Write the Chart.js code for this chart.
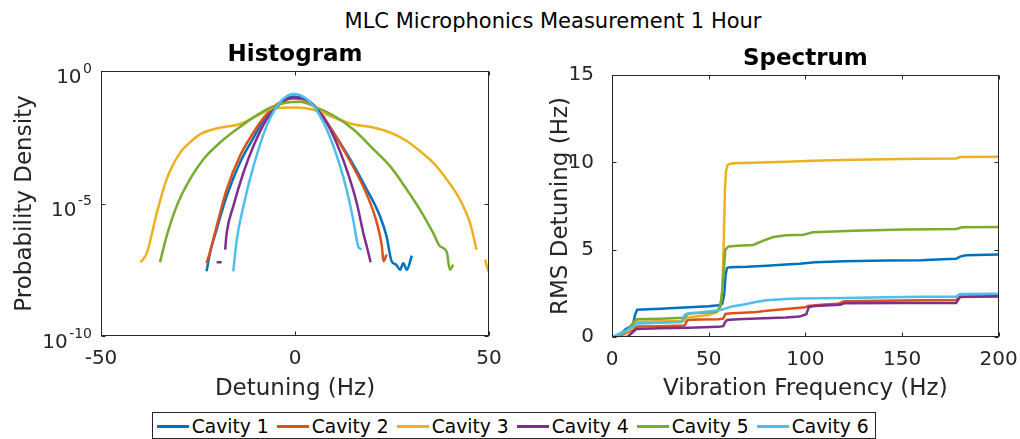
<!DOCTYPE html>
<html>
<head>
<meta charset="utf-8">
<title>MLC Microphonics Measurement 1 Hour</title>
<script src="https://cdn.jsdelivr.net/npm/chart.js@4.4.1/dist/chart.umd.min.js"></script>
<style>
  html, body { margin: 0; padding: 0; background: #fff; }
  #fig { position: relative; width: 1020px; height: 439px; overflow: hidden; font-family: "DejaVu Sans", sans-serif; }
  #suptitle { position: absolute; left: 553px; top: 11px; transform: translateX(-50%); font-size: 21px; line-height: 21px; color: #000; white-space: nowrap; }
  .panel { position: absolute; top: 0; height: 400px; }
  #legend { position: absolute; left: 152px; top: 412px; width: 722px; height: 25px; border: 1px solid #262626; background: #fff; }
  #legend .item { position: absolute; top: 1px; height: 25px; display: flex; align-items: center; font-size: 18.7px; color: #000; white-space: nowrap; }
  #legend .swatch { display: inline-block; width: 32px; height: 2.5px; margin-right: 3px; }
</style>
</head>
<body>
<div id="fig">
  <div id="suptitle">MLC Microphonics Measurement 1 Hour</div>
  <div class="panel" style="left:0;width:510px"><canvas id="histChart" width="510" height="400"></canvas></div>
  <div class="panel" style="left:510px;width:530px"><canvas id="specChart" width="530" height="400"></canvas></div>
  <div id="legend"></div>
</div>
<script>
const cavityNames = ['Cavity 1', 'Cavity 2', 'Cavity 3', 'Cavity 4', 'Cavity 5', 'Cavity 6'];
const cavityColors = ['#0072BD', '#D95319', '#EDB120', '#7E2F8E', '#77AC30', '#4DBEEE'];

// Histogram: detuning (Hz) vs log10(probability density); null breaks the line
const histDetuning1 = [-22.8, -21.9, -20.2, -17.6, -14.2, -10.7, -7.3, -3.9, -0.4, 3.0, 6.4, 9.9, 14.2, 18.5, 21.9, 23.6, 24.9, 26.0, 27.1, 27.9, 28.8, 30.1];
const histLogPdf1   = [-7.56, -6.87, -5.98, -4.72, -3.46, -2.52, -1.68, -1.19, -0.96, -1.12, -1.56, -2.32, -3.33, -4.47, -5.48, -6.24, -7.18, -7.30, -7.50, -7.25, -7.50, -6.97];
const histDetuning2 = [-22.8, -21.9, -20.2, -17.6, -14.2, -10.7, -7.3, -3.9, -0.4, 3.0, 6.4, 9.9, 14.2, 18.5, 21.1, 22.4, 22.8, 23.6];
const histLogPdf2   = [-7.25, -6.82, -5.86, -4.47, -3.21, -2.32, -1.63, -1.19, -1.04, -1.12, -1.56, -2.32, -3.40, -4.66, -5.73, -6.62, -7.18, -6.93];
const histDetuning3 = [-39.8, -38.2, -35.6, -33.1, -29.6, -27.1, -24.5, -20.2, -14.2, -9.0, -5.6, 0.4, 5.6, 9.9, 15.0, 20.2, 24.5, 28.8, 32.2, 35.6, 39.1, 42.5, 45.1, 46.8, 48.0, 49.0, 49.8];
const histLogPdf3   = [-7.22, -6.87, -5.35, -4.09, -3.08, -2.70, -2.39, -2.17, -2.00, -1.63, -1.41, -1.38, -1.50, -1.75, -2.01, -2.13, -2.32, -2.64, -3.02, -3.46, -4.09, -4.85, -5.73, -6.74, null, -7.12, -7.56];
const histDetuning4 = [-20.2, -18.9, -18.5, -18.0, -17.6, -15.9, -13.3, -10.7, -7.3, -3.9, -0.4, 3.0, 6.4, 9.9, 13.3, 15.9, 17.6, 18.5, 19.5];
const histLogPdf4   = [-7.22, -7.22, null, -6.74, -6.11, -5.10, -3.84, -2.83, -1.82, -1.25, -1.00, -1.08, -1.56, -2.45, -3.71, -4.97, -6.11, -6.62, -7.22];
const histDetuning5 = [-34.8, -33.1, -30.5, -27.1, -23.6, -19.3, -15.0, -10.7, -6.4, -2.1, 1.3, 5.6, 9.9, 15.0, 20.2, 24.5, 28.8, 32.2, 35.6, 37.4, 39.1, 39.9, 40.8];
const histLogPdf5   = [-7.22, -6.24, -5.10, -4.09, -3.33, -2.70, -2.20, -1.75, -1.38, -1.19, -1.16, -1.38, -1.68, -2.20, -2.95, -3.59, -4.47, -5.23, -6.11, -6.62, -6.82, -7.50, -7.31];
const histDetuning6 = [-15.9, -15.0, -13.3, -10.7, -7.3, -3.9, -0.4, 3.0, 6.4, 9.9, 13.3, 15.0, 16.3, 17.2];
const histLogPdf6   = [-7.56, -6.36, -5.10, -3.59, -2.07, -1.19, -0.87, -1.06, -1.68, -2.83, -4.47, -5.61, -6.62, -6.74];
const histTicks = [1e-10, 1e-5, 1];

// Spectrum: cumulative RMS detuning (Hz) vs vibration frequency (Hz)
const specFreq1 = [0, 4, 7, 9.5, 11, 12, 13, 25, 40, 50, 55, 57, 58, 58.8, 59.5, 61, 70, 80, 90, 97, 105, 120, 142, 160, 171, 178, 180, 183, 200];
const specRms1  = [0, 0.12, 0.45, 0.6, 0.8, 1.3, 1.56, 1.62, 1.7, 1.76, 1.82, 1.9, 2.4, 3.6, 3.95, 4.0, 4.02, 4.08, 4.15, 4.2, 4.28, 4.33, 4.38, 4.4, 4.45, 4.48, 4.6, 4.68, 4.72];
const specFreq2 = [0, 4, 8, 11, 13, 25, 37.5, 39, 45, 55, 57.5, 58.7, 62, 73, 80, 90, 100, 101.5, 108, 117, 120, 140, 160, 178, 180, 200];
const specRms2  = [0, 0.08, 0.25, 0.42, 0.6, 0.62, 0.66, 0.97, 1.0, 1.02, 1.05, 1.32, 1.36, 1.41, 1.5, 1.6, 1.7, 1.78, 1.85, 1.9, 2.04, 2.08, 2.1, 2.12, 2.29, 2.32];
const specFreq3 = [0, 4, 8, 11, 13, 25, 37, 39, 45, 50, 54, 56, 57, 57.8, 58.4, 59, 59.8, 61, 65, 73, 90, 108, 125, 159, 178, 180, 200];
const specRms3  = [0, 0.1, 0.3, 0.55, 0.88, 0.9, 0.92, 1.1, 1.2, 1.26, 1.4, 1.7, 2.6, 5.5, 8.4, 9.5, 9.85, 9.92, 9.96, 9.98, 10.03, 10.1, 10.15, 10.2, 10.22, 10.3, 10.32];
const specFreq4 = [0, 8, 10, 12.5, 25, 40, 55, 57.5, 58.5, 59.5, 65, 75, 90, 97, 100.5, 101.8, 105, 118, 120, 150, 178, 180, 200];
const specRms4  = [0, 0.02, 0.2, 0.46, 0.5, 0.53, 0.58, 0.62, 0.85, 0.98, 1.02, 1.06, 1.12, 1.17, 1.3, 1.72, 1.78, 1.84, 1.93, 1.94, 1.95, 2.3, 2.33];
const specFreq5 = [0, 4, 7, 9.5, 11, 12, 13, 25, 37.5, 39, 41, 50, 54, 56, 57, 57.7, 58.6, 60.3, 65, 73, 78, 83.5, 90, 99, 104, 125, 151, 178, 181, 200];
const specRms5  = [0, 0.08, 0.3, 0.6, 0.8, 0.95, 1.01, 1.05, 1.1, 1.3, 1.36, 1.4, 1.45, 1.75, 2.6, 3.65, 5.0, 5.18, 5.22, 5.27, 5.5, 5.72, 5.82, 5.86, 6.0, 6.09, 6.15, 6.18, 6.28, 6.3];
const specFreq6 = [0, 4, 8, 11, 13, 25, 36, 37.5, 39, 45, 55, 59, 62, 69, 75, 80, 90, 97, 120, 142, 160, 178, 180, 200];
const specRms6  = [0, 0.2, 0.4, 0.6, 0.78, 0.82, 0.86, 1.25, 1.35, 1.4, 1.52, 1.64, 1.75, 1.88, 2.02, 2.1, 2.18, 2.2, 2.23, 2.28, 2.3, 2.31, 2.46, 2.48];

const FONT = '"DejaVu Sans", sans-serif';
const AXIS_COLOR = '#262626';

function toPoints(xs, ys, fn) {
  return xs.map((x, i) => ({ x: x, y: ys[i] === null ? null : fn(ys[i]) }));
}

const histSeries = [
  [histDetuning1, histLogPdf1], [histDetuning2, histLogPdf2], [histDetuning3, histLogPdf3],
  [histDetuning4, histLogPdf4], [histDetuning5, histLogPdf5], [histDetuning6, histLogPdf6]
];
const specSeries = [
  [specFreq1, specRms1], [specFreq2, specRms2], [specFreq3, specRms3],
  [specFreq4, specRms4], [specFreq5, specRms5], [specFreq6, specRms6]
];

// box around the plot area with inward tick marks, the panel title centred
// over the plot, and 10^n labels on the log axis
const axesBox = {
  id: 'axesBox',
  afterDatasetsDraw(chart, args, opts) {
    const { ctx, chartArea: a, scales: { x, y } } = chart;
    const L = Math.round(a.left) + 0.5, R = Math.round(a.right) - 0.5;
    const T = Math.round(a.top) + 0.5, B = Math.round(a.bottom) - 0.5;
    const tick = 4;
    ctx.save();
    ctx.strokeStyle = AXIS_COLOR;
    ctx.lineWidth = 1;
    ctx.strokeRect(L, T, R - L, B - T);
    ctx.beginPath();
    x.ticks.forEach(t => {
      const px = Math.round(x.getPixelForValue(t.value)) + 0.5;
      ctx.moveTo(px, B); ctx.lineTo(px, B - tick);
      ctx.moveTo(px, T); ctx.lineTo(px, T + tick);
    });
    y.ticks.forEach(t => {
      const py = Math.round(y.getPixelForValue(t.value)) + 0.5;
      ctx.moveTo(L, py); ctx.lineTo(L + tick, py);
      ctx.moveTo(R, py); ctx.lineTo(R - tick, py);
    });
    ctx.stroke();

    ctx.fillStyle = '#000';
    ctx.font = 'bold 23px ' + FONT;
    ctx.textAlign = 'center';
    ctx.textBaseline = 'alphabetic';
    ctx.fillText(opts.title, (a.left + a.right) / 2, a.top - 10);

    if (opts.powerLabels) {
      ctx.fillStyle = AXIS_COLOR;
      ctx.textAlign = 'left';
      y.ticks.forEach(t => {
        const py = y.getPixelForValue(t.value);
        const exp = String(Math.round(Math.log10(t.value)));
        ctx.font = '14px ' + FONT;
        const ew = ctx.measureText(exp).width;
        const ex = a.left - 9 - ew;
        ctx.fillText(exp, ex, py + 1.5);
        ctx.font = '20px ' + FONT;
        const bw = ctx.measureText('10').width;
        ctx.fillText('10', ex - 1.5 - bw, py + 12);
      });
    }
    ctx.restore();
  }
};

const tickFont = { family: FONT, size: 20 };
const labelFont = { family: FONT, size: 23 };

function baseOptions(title, top, right, powerLabels) {
  return {
    responsive: false,
    animation: false,
    events: [],
    layout: { padding: { left: 0, right: right, top: top, bottom: 0 } },
    elements: { point: { radius: 0 }, line: { borderWidth: 2.5 } },
    plugins: {
      legend: { display: false },
      tooltip: { enabled: false },
      title: { display: false },
      axesBox: { title: title, powerLabels: powerLabels }
    }
  };
}

// Histogram panel
const histOptions = baseOptions('Histogram', 71, 21, true);
histOptions.scales = {
  x: {
    type: 'linear', min: -50, max: 50,
    grid: { display: false }, border: { display: false },
    ticks: { stepSize: 50, padding: 3, color: AXIS_COLOR, font: tickFont },
    title: { display: true, text: 'Detuning (Hz)', color: AXIS_COLOR, font: labelFont, padding: { top: 0, bottom: -2.5 } },
    afterFit: s => { s.height = 64; }
  },
  y: {
    type: 'logarithmic', min: 1e-10, max: 1,
    grid: { display: false }, border: { display: false },
    ticks: { display: false },
    afterBuildTicks: s => { s.ticks = histTicks.map(v => ({ value: v })); },
    title: { display: true, text: 'Probability Density', color: AXIS_COLOR, font: labelFont, padding: { top: 11, bottom: 0 } },
    afterFit: s => { s.width = 101; }
  }
};

new Chart(document.getElementById('histChart'), {
  type: 'line',
  data: {
    datasets: histSeries.map(([xs, ys], i) => ({
      label: cavityNames[i],
      data: toPoints(xs, ys, v => Math.pow(10, v)),
      borderColor: cavityColors[i],
      backgroundColor: cavityColors[i],
      cubicInterpolationMode: 'monotone',
      order: cavityNames.length - 1 - i
    }))
  },
  options: histOptions,
  plugins: [axesBox]
});

// Spectrum panel
const specOptions = baseOptions('Spectrum', 75, 41.3, false);
specOptions.scales = {
  x: {
    type: 'linear', min: 0, max: 200,
    grid: { display: false }, border: { display: false },
    ticks: { stepSize: 50, padding: 3, color: AXIS_COLOR, font: tickFont },
    title: { display: true, text: 'Vibration Frequency (Hz)', color: AXIS_COLOR, font: labelFont, padding: { top: 0, bottom: -3 } },
    afterFit: s => { s.height = 63; }
  },
  y: {
    type: 'linear', min: 0, max: 15,
    grid: { display: false }, border: { display: false },
    ticks: { stepSize: 5, padding: 10, color: AXIS_COLOR, font: tickFont },
    title: { display: true, text: 'RMS Detuning (Hz)', color: AXIS_COLOR, font: labelFont, padding: { top: 37.5, bottom: 0 } },
    afterFit: s => { s.width = 102; }
  }
};

new Chart(document.getElementById('specChart'), {
  type: 'line',
  data: {
    datasets: specSeries.map(([xs, ys], i) => ({
      label: cavityNames[i],
      data: toPoints(xs, ys, v => v),
      borderColor: cavityColors[i],
      backgroundColor: cavityColors[i],
      tension: 0,
      order: cavityNames.length - 1 - i
    }))
  },
  options: specOptions,
  plugins: [axesBox]
});

// shared legend under both panels
const legend = document.getElementById('legend');
cavityNames.forEach((name, i) => {
  const item = document.createElement('div');
  item.className = 'item';
  item.style.left = (3.7 + i * 120) + 'px';
  const sw = document.createElement('span');
  sw.className = 'swatch';
  sw.style.background = cavityColors[i];
  item.appendChild(sw);
  item.appendChild(document.createTextNode(name));
  legend.appendChild(item);
});
</script>
</body>
</html>
